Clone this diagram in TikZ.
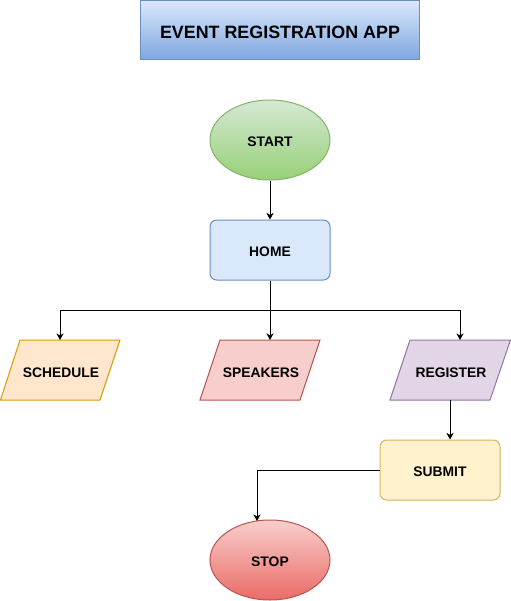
\documentclass[tikz,border=0pt]{standalone}
\usepackage{fontspec}
\setmainfont{Liberation Sans}
\usetikzlibrary{shapes.geometric,arrows.meta}
\definecolor{blueF}{HTML}{DAE8FC}
\definecolor{blueD}{HTML}{7EA6E0}
\definecolor{blueB}{HTML}{6C8EBF}
\definecolor{greenF}{HTML}{D5E8D4}
\definecolor{greenD}{HTML}{97D077}
\definecolor{greenB}{HTML}{82B366}
\definecolor{orangeF}{HTML}{FFE6CC}
\definecolor{orangeB}{HTML}{D79B00}
\definecolor{redF}{HTML}{F8CECC}
\definecolor{redD}{HTML}{EA6B66}
\definecolor{redB}{HTML}{B85450}
\definecolor{purpleF}{HTML}{E1D5E7}
\definecolor{purpleB}{HTML}{9673A6}
\definecolor{yellowF}{HTML}{FFF2CC}
\definecolor{yellowB}{HTML}{D6B656}
\begin{document}
\begin{tikzpicture}[x=0.75pt,y=-0.75pt,
  lbl/.style={font=\fontsize{10.4}{12}\selectfont\bfseries, text=black, text height=9.4pt, text depth=0pt},
  ell/.style={ellipse, draw, line width=0.75pt, minimum width=90pt, minimum height=60pt, inner sep=0pt, lbl},
  rbox/.style={rectangle, rounded corners=5pt, draw, line width=0.75pt, minimum width=90pt, minimum height=45pt, inner sep=0pt, lbl},
  para/.style={draw, line width=0.75pt},
  arr/.style={draw=black, line width=0.75pt, -{Stealth[length=5pt,width=5.5pt,inset=1.5pt]}},
  conn/.style={draw=black, line width=0.75pt}]
\useasboundingbox (0,0) rectangle (511,601);

\node[rectangle, draw=blueB, line width=0.75pt, top color=blueF, bottom color=blueD,
  minimum width=209.5pt, minimum height=44.5pt, inner sep=0pt, text height=12pt, text depth=0pt,
  font=\fontsize{13.4}{15}\selectfont\bfseries] (title) at (280,30.3) {EVENT REGISTRATION APP};

\node[ell, draw=greenB, top color=greenF, bottom color=greenD] (start) at (270,140) {START};
\node[rbox, draw=blueB, fill=blueF] (home) at (270,250) {HOME};

\draw[para, draw=orangeB, fill=orangeF] (20,340) -- (120,340) -- (100,400) -- (0.5,400) -- cycle;
\draw[para, draw=redB, fill=redF] (220,340) -- (320,340) -- (300,400) -- (200,400) -- cycle;
\draw[para, draw=purpleB, fill=purpleF] (410,340) -- (510.5,340) -- (490,400) -- (390,400) -- cycle;
\node[lbl] (sched) at (61,371) {SCHEDULE};
\node[lbl] (speak) at (261,371) {SPEAKERS};
\node[lbl] (reg) at (451,371) {REGISTER};
\coordinate (schedtop) at (60,340);
\coordinate (speaktop) at (270,340);
\coordinate (regtop) at (460,340);
\coordinate (regbot) at (450,400);
\coordinate (split) at (270,310);

\node[rbox, draw=yellowB, fill=yellowF] (submit) at (440,470) {SUBMIT};
\node[ell, draw=redB, top color=redF, bottom color=redD] (stop) at (270,560) {STOP};
\coordinate (stoptop) at (257,521);

\draw[arr] (start.south) -- (home.north);
\draw[conn] (home.south) -- (split);
\draw[arr] (split) -| (schedtop);
\draw[arr] (split) -- (speaktop);
\draw[arr] (split) -| (regtop);
\draw[arr] (regbot) -- (submit.north -| regbot);
\draw[arr] (submit.west) -| (stoptop);
\end{tikzpicture}
\end{document}
